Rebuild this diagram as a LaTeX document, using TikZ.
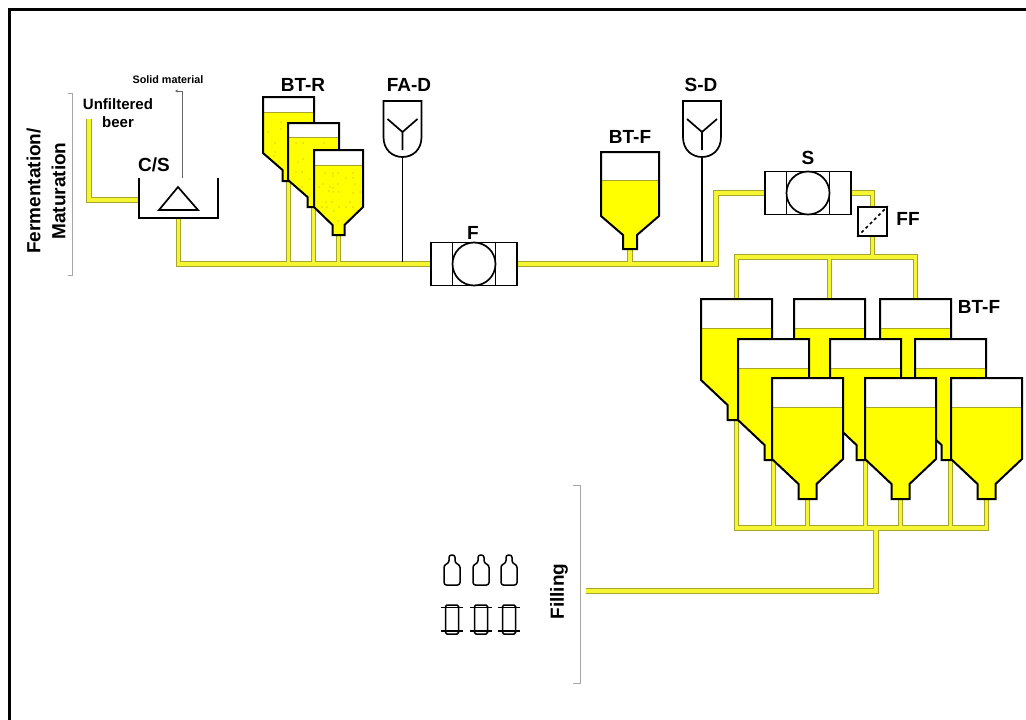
\documentclass[tikz,border=0pt]{standalone}
\usepackage{fontspec}
\setmainfont{Liberation Sans}
\usepackage{xcolor}
\usetikzlibrary{arrows.meta, calc, backgrounds}
\definecolor{beeryellow}{RGB}{255,255,0}
\definecolor{pipeedge}{RGB}{165,165,45}
\definecolor{pipefill}{RGB}{245,245,50}
\tikzset{
  pics/silo/.style n args={6}{code={
    \coordinate (-in) at (#1/2,0);
    \coordinate (-out) at (#1/2,#5);
    \fill[white] (0,0) rectangle (#1,#2);
    \fill[beeryellow] (0,#2) -- (#1,#2) -- (#1,#3) -- (#1/2+#6,#4) -- (#1/2+#6,#5)
      -- (#1/2-#6,#5) -- (#1/2-#6,#4) -- (0,#3) -- cycle;
    \draw[pipeedge, line width=1pt] (0,#2) -- (#1,#2);
    \draw[line width=2pt] (0,0) -- (#1,0) -- (#1,#3) -- (#1/2+#6,#4) -- (#1/2+#6,#5)
      -- (#1/2-#6,#5) -- (#1/2-#6,#4) -- (0,#3) -- cycle;
  }},
  pics/doser/.style={code={
    \coordinate (-out) at (0,56);
    \draw[line width=1.7pt] (-19,0) -- (19,0) -- (19,36) .. controls (19,49) and (10,56) .. (0,56)
      .. controls (-10,56) and (-19,49) .. (-19,36) -- cycle;
    \draw[line width=1.7pt] (-15,18) -- (0,31) -- (15,18) (0,31) -- (0,49);
  }}
}
\begin{document}
\begin{tikzpicture}[x=1pt, y=-1pt,
    lab/.style={font=\bfseries\fontsize{19}{25}\selectfont, inner sep=0pt, align=center},
    pumpbox/.style={draw, fill=white, line width=1.7pt, minimum width=86pt, minimum height=43pt, inner sep=0pt},
    pumpwheel/.style={draw, circle, line width=1.7pt, minimum size=43pt, inner sep=0pt},
    brace/.style={draw=gray!70, line width=0.9pt},
    dot/.style={fill=pipeedge}]
  \useasboundingbox (0,0) rectangle (1026,720);
  \draw[line width=3pt] (9,720) -- (9,9) -- (1026,9);

  % fermentation side
  \node[lab, rotate=90] (ferm) at (46,191) {Fermentation/\\Maturation};
  \draw[brace] (68,93) -- (72,93) -- (72,275) -- (68,275);
  \node[lab, font=\bfseries\fontsize{15}{18}\selectfont] (unf) at (118,113) {Unfiltered\\beer};
  \node[lab, font=\bfseries\fontsize{10.8}{12}\selectfont] (solid) at (168,80) {Solid material};
  \node[lab] (cslab) at (154,165) {C/S};
  \node[minimum width=79pt, minimum height=40pt, inner sep=0pt] (cs) at (178.5,198) {};
  \draw[line width=1.7pt] (cs.north west) -- (cs.south west) -- (cs.south east) -- (cs.north east);
  \draw[line width=1.7pt] (178,187) -- (198,210) -- (159,210) -- cycle;
  \coordinate (beer) at (89,119);
  \coordinate (csin) at (139,200);
  \coordinate (solidtop) at (182,91);
  \coordinate (solidend) at (175,91);
  \draw[gray!80!black, line width=0.7pt, -{Stealth[length=3pt,width=3pt]}]
    (182,178) -- (solidtop) -- (solidend);

  % yeast tanks
  \node[lab] (btr) at (303,85) {BT-R};
  \pic (r1) at (263,97) {silo={51}{15}{56}{73}{84}{6}};
  \pic (r2) at (288,123) {silo={51}{14}{57}{74}{84}{6}};
  \pic (r3) at (314,150) {silo={49}{15}{57}{75}{85}{6}};
  \foreach \px/\py in {281/122,268/132,281/129,275/143,275/152,274/156,
      296/143,303/143,324/143,298/162,303/159,296/172,302/172,310/179,302/187,
      325/173,333/173,338/173,333/176,353/173,346/178,353/178,323/184,319/187,330/187,
      333/188,338/184,329/191,333/192,339/192,355/184,360/192,353/193,326/202,332/202,
      350/202,327/207,322/207,339/207,346/207,353/207,334/211,338/221}
    \fill[dot] (\px,\py) circle (0.7pt);

  % dosing, filter, stabiliser
  \node[lab] (fadlab) at (409,85) {FA-D};
  \pic (fad) at (402.5,101) {doser};
  \node[pumpbox] (f) at (474,264) {};
  \node[lab] (flab) at (473,233) {F};
  \node[lab] (btflab) at (630,137) {BT-F};
  \pic (bf) at (601,152) {silo={58}{28}{64}{83}{97}{7}};
  \node[lab] (sdlab) at (701,85) {S-D};
  \pic (sd) at (702,101) {doser};
  \node[pumpbox] (s) at (808,193) {};
  \node[lab] (slab) at (808,158) {S};
  \node[draw, fill=white, line width=1.7pt, minimum size=29pt, inner sep=0pt] (ff) at (872.5,221.5) {};
  \draw[line width=1.7pt, dashed] (ff.south west) -- (ff.north east);
  \node[lab] (fflab) at (908,219) {FF};
  \foreach \pmp in {f,s} {
    \node[pumpwheel] (\pmp-wheel) at (\pmp) {};
    \draw[line width=1.7pt] ($(\pmp.north)+(-21.5,0)$) -- ($(\pmp.south)+(-21.5,0)$);
    \draw[line width=1.7pt] ($(\pmp.north)+(21.5,0)$) -- ($(\pmp.south)+(21.5,0)$);
  }
  \draw[line width=1.7pt] (fad-out) -- ($(fad-out |- f.west)+(0,-2)$);
  \draw[line width=1.7pt] (sd-out) -- ($(sd-out |- f.west)+(0,-2)$);

  % bright beer tanks, back to front
  \node[lab] (btf2lab) at (979,307) {BT-F};
  \foreach \tk/\tx/\ty in {t1/701/299,t2/794/299,t3/880/299,t4/738/339,t5/830/339,t6/915/339,
      t7/772/378,t8/865/378,t9/951/378}
    \pic (\tk) at (\tx,\ty) {silo={71}{29}{81}{106}{121}{9}};

  % filling
  \node[lab, rotate=90] (filllab) at (559,591.5) {Filling};
  \draw[brace] (573,485) -- (580,485) -- (580,683) -- (573,683);
  \foreach \bx in {452,481,509} {
    \draw[line width=1.5pt, rounded corners=2.5pt] (\bx-8,585) -- (\bx-8,565) -- (\bx-3,563) -- (\bx-3,555)
      -- (\bx+3,555) -- (\bx+3,563) -- (\bx+8,565) -- (\bx+8,585) -- cycle;
    \draw[line width=1.5pt, rounded corners=1.5pt] (\bx-6.5,605) rectangle (\bx+6.5,634);
    \draw[line width=1.5pt] (\bx-11,607.5) -- (\bx+11,607.5) (\bx-11,631) -- (\bx+11,631);
  }

  % pipes
  \coordinate (bendS) at (716,264);
  \coordinate (ffjoin) at (872.5,257);
  \coordinate (collect) at (876,528);
  \coordinate (fillend) at (586,591);
  \begin{scope}[on background layer]
    \foreach \pw/\pc in {5.4/pipeedge,3.2/pipefill} {
      \draw[line width=\pw pt, color=\pc] (beer) |- (csin);
      \draw[line width=\pw pt, color=\pc] (cs.south) |- (f.west);
      \draw[line width=\pw pt, color=\pc] (f.east) -- (bendS) |- (s.west);
      \draw[line width=\pw pt, color=\pc] (s.east) -| (ff.north);
      \draw[line width=\pw pt, color=\pc] (ff.south) -- (ffjoin);
      \draw[line width=\pw pt, color=\pc] (t1-in) |- (ffjoin) -| (t3-in);
      \draw[line width=\pw pt, color=\pc] (t2-in) -- (t2-in |- ffjoin);
      \draw[line width=\pw pt, color=\pc] (t1-out) |- (collect) -| (t9-out);
      \draw[line width=\pw pt, color=\pc] (collect) |- (fillend);
      \foreach \tk in {t4,t5,t6,t7,t8}
        \draw[line width=\pw pt, color=\pc] (\tk-out) -- (\tk-out |- collect);
      \foreach \tk in {r1,r2,r3,bf}
        \draw[line width=\pw pt, color=\pc] (\tk-out) -- (\tk-out |- f.west);
    }
  \end{scope}
\end{tikzpicture}
\end{document}
